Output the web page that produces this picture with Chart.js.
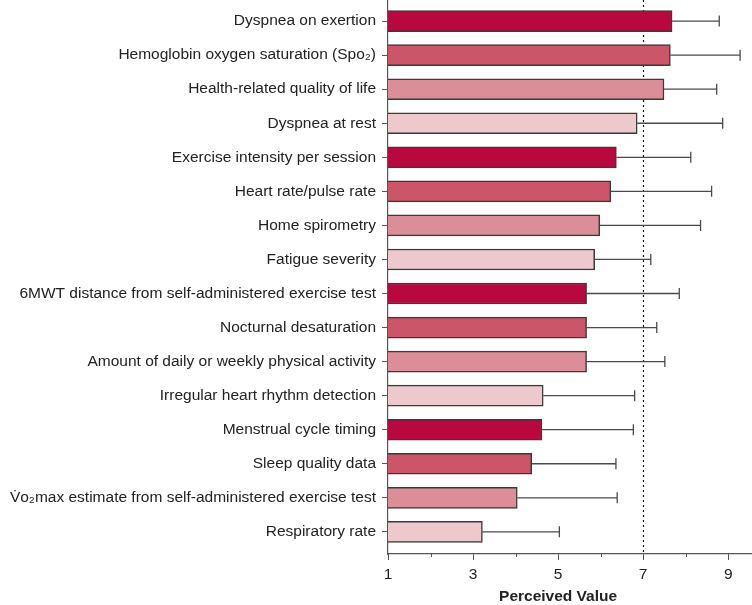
<!DOCTYPE html>
<html>
    <head>
        <title>Perceived Value</title>
        <meta charset="UTF-8">
        <style>
            body {
                margin: 0;
                background: #fff;
            }
            #chartContainer {
                width: 752px;
                height: 605px;
            }
        </style>
    </head>
    <body>
        <div id="chartContainer">
            <canvas id="myChart"></canvas>
        </div>

        <script src="https://cdn.jsdelivr.net/npm/chart.js@4.4.1/dist/chart.umd.min.js"></script>
        <script>
            var labels = [
                'Dyspnea on exertion',
                'Hemoglobin oxygen saturation (Spo\u2082)',
                'Health-related quality of life',
                'Dyspnea at rest',
                'Exercise intensity per session',
                'Heart rate/pulse rate',
                'Home spirometry',
                'Fatigue severity',
                '6MWT distance from self-administered exercise test',
                'Nocturnal desaturation',
                'Amount of daily or weekly physical activity',
                'Irregular heart rhythm detection',
                'Menstrual cycle timing',
                'Sleep quality data',
                'V\u0307o\u2082max estimate from self-administered exercise test',
                'Respiratory rate'
            ];
            // mean perceived value and upper end of the error bar
            var means = [7.68, 7.64, 7.49, 6.86, 6.37, 6.24, 5.98, 5.86, 5.67, 5.67, 5.67, 4.65, 4.62, 4.38, 4.04, 3.22];
            var upper = [8.79, 9.28, 8.73, 8.87, 8.12, 8.61, 8.35, 7.18, 7.85, 7.32, 7.51, 6.80, 6.77, 6.36, 6.39, 5.03];
            var tickLabels = [1, 3, 5, 7, 9];
            var refLine = 7;
            var shades = ['#b8083f', '#cb5569', '#dc8e98', '#edc8cd'];

            var fontFamily = '"Liberation Sans", Arial, Helvetica, sans-serif';

            var extras = {
                id: 'extras',
                beforeDatasetsDraw: function (chart) {
                    var ctx = chart.ctx;
                    var x = chart.scales.x;
                    var area = chart.chartArea;
                    var px = Math.round(x.getPixelForValue(refLine)) + 0.5;
                    ctx.save();
                    ctx.strokeStyle = '#111';
                    ctx.lineWidth = 1.2;
                    ctx.setLineDash([2, 3]);
                    ctx.beginPath();
                    ctx.moveTo(px, area.top);
                    ctx.lineTo(px, area.bottom);
                    ctx.stroke();
                    ctx.restore();
                },
                afterDatasetsDraw: function (chart) {
                    var ctx = chart.ctx;
                    var x = chart.scales.x;
                    var y = chart.scales.y;
                    ctx.save();
                    ctx.strokeStyle = '#4a4a4a';
                    ctx.lineWidth = 1.3;
                    for (var i = 0; i < labels.length; i++) {
                        var yp = y.getPixelForValue(i);
                        var x0 = x.getPixelForValue(means[i]);
                        var x1 = x.getPixelForValue(upper[i]);
                        ctx.beginPath();
                        ctx.moveTo(x0, yp);
                        ctx.lineTo(x1, yp);
                        ctx.moveTo(x1, yp - 5.5);
                        ctx.lineTo(x1, yp + 5.5);
                        ctx.stroke();
                    }
                    ctx.restore();
                },
                afterDraw: function (chart) {
                    var ctx = chart.ctx;
                    var x = chart.scales.x;
                    var area = chart.chartArea;
                    ctx.save();
                    // minor ticks at even values
                    ctx.strokeStyle = '#555';
                    ctx.lineWidth = 1;
                    for (var v = 2; v <= 8; v += 2) {
                        var px = Math.round(x.getPixelForValue(v)) + 0.5;
                        ctx.beginPath();
                        ctx.moveTo(px, area.bottom);
                        ctx.lineTo(px, area.bottom + 3);
                        ctx.stroke();
                    }
                    // axis title centred on the 1-9 range
                    ctx.fillStyle = '#222';
                    ctx.font = 'bold 15.5px ' + fontFamily;
                    ctx.textAlign = 'center';
                    ctx.textBaseline = 'middle';
                    ctx.fillText('Perceived Value', x.getPixelForValue((tickLabels[0] + tickLabels[tickLabels.length - 1]) / 2), 597);
                    ctx.restore();
                }
            };

            var ctx = document.getElementById('myChart');
            var myChart = new Chart(ctx, {
                type: 'bar',
                data: {
                    datasets: [
                        {
                            data: means.map(function (v, i) { return {x: v, y: i}; }),
                            backgroundColor: means.map(function (v, i) { return shades[i % 4]; }),
                            borderColor: '#3a3a3a',
                            borderWidth: 1.5,
                            barThickness: 21
                        }
                    ]
                },
                options: {
                    indexAxis: 'y',
                    responsive: true,
                    maintainAspectRatio: false,
                    animation: false,
                    layout: {padding: 0},
                    plugins: {
                        legend: {display: false},
                        tooltip: {enabled: false}
                    },
                    scales: {
                        x: {
                            type: 'linear',
                            min: 1,
                            max: 9.56,
                            afterFit: function (scale) {
                                scale.height = 51;
                                scale.paddingLeft = 0;
                                scale.paddingRight = 0;
                            },
                            border: {color: '#555', width: 1.2},
                            grid: {
                                drawOnChartArea: false,
                                tickLength: 6,
                                tickColor: function (c) {
                                    return c.tick && tickLabels.indexOf(c.tick.value) >= 0 ? '#555' : 'transparent';
                                }
                            },
                            ticks: {
                                stepSize: 1,
                                includeBounds: false,
                                autoSkip: false,
                                maxRotation: 0,
                                padding: 5,
                                color: '#222',
                                font: {family: fontFamily, size: 15.5},
                                callback: function (v) {
                                    return tickLabels.indexOf(v) >= 0 ? String(v) : '';
                                }
                            }
                        },
                        y: {
                            type: 'linear',
                            reverse: true,
                            offset: false,
                            min: -0.62,
                            max: 15.65,
                            afterFit: function (scale) {
                                scale.width = 388;
                                scale.paddingTop = 0;
                                scale.paddingBottom = 0;
                            },
                            afterBuildTicks: function (scale) {
                                scale.ticks = labels.map(function (l, i) { return {value: i}; });
                            },
                            border: {color: '#555', width: 1.2},
                            grid: {
                                offset: false,
                                drawOnChartArea: false,
                                tickLength: 6,
                                tickColor: '#555'
                            },
                            ticks: {
                                autoSkip: false,
                                padding: 6,
                                color: '#222',
                                font: {family: fontFamily, size: 15.5},
                                callback: function (v) {
                                    return labels[v];
                                }
                            }
                        }
                    }
                },
                plugins: [extras]
            });
        </script>
    </body>
</html>
